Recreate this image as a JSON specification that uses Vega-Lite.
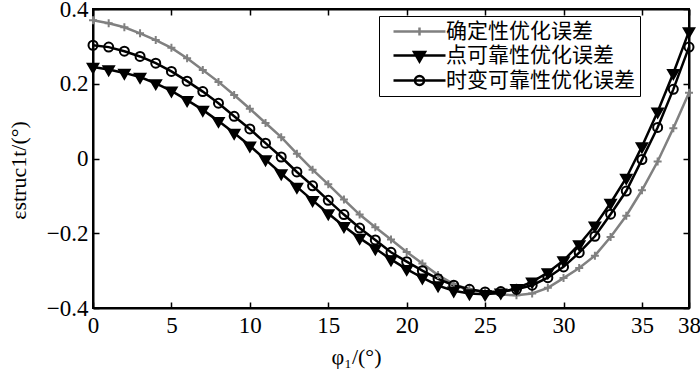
{
  "$schema": "https://vega.github.io/schema/vega-lite/v6.json",
  "width": 596,
  "height": 299,
  "autosize": {"type": "none"},
  "padding": {"left": 93, "top": 9, "right": 11, "bottom": 64},
  "background": "white",
  "config": {
    "view": {"stroke": "black", "strokeWidth": 2},
    "axis": {
      "grid": false,
      "domainColor": "black",
      "domainWidth": 2,
      "tickColor": "black",
      "tickWidth": 1.5,
      "tickSize": -6,
      "labelFlush": false,
      "labelFont": "Liberation Serif",
      "labelFontSize": 23,
      "labelColor": "black",
      "titleFont": "Liberation Serif",
      "titleFontSize": 22,
      "titleColor": "black",
      "titleFontWeight": "normal"
    }
  },
  "data": {
    "values": [
      {"phi":0,"series":"确定性优化误差","err":0.370},
      {"phi":1,"series":"确定性优化误差","err":0.362},
      {"phi":2,"series":"确定性优化误差","err":0.351},
      {"phi":3,"series":"确定性优化误差","err":0.335},
      {"phi":4,"series":"确定性优化误差","err":0.317},
      {"phi":5,"series":"确定性优化误差","err":0.296},
      {"phi":6,"series":"确定性优化误差","err":0.268},
      {"phi":7,"series":"确定性优化误差","err":0.237},
      {"phi":8,"series":"确定性优化误差","err":0.205},
      {"phi":9,"series":"确定性优化误差","err":0.170},
      {"phi":10,"series":"确定性优化误差","err":0.133},
      {"phi":11,"series":"确定性优化误差","err":0.095},
      {"phi":12,"series":"确定性优化误差","err":0.057},
      {"phi":13,"series":"确定性优化误差","err":0.013},
      {"phi":14,"series":"确定性优化误差","err":-0.030},
      {"phi":15,"series":"确定性优化误差","err":-0.069},
      {"phi":16,"series":"确定性优化误差","err":-0.110},
      {"phi":17,"series":"确定性优化误差","err":-0.150},
      {"phi":18,"series":"确定性优化误差","err":-0.184},
      {"phi":19,"series":"确定性优化误差","err":-0.217},
      {"phi":20,"series":"确定性优化误差","err":-0.250},
      {"phi":21,"series":"确定性优化误差","err":-0.281},
      {"phi":22,"series":"确定性优化误差","err":-0.312},
      {"phi":23,"series":"确定性优化误差","err":-0.336},
      {"phi":24,"series":"确定性优化误差","err":-0.350},
      {"phi":25,"series":"确定性优化误差","err":-0.358},
      {"phi":26,"series":"确定性优化误差","err":-0.364},
      {"phi":27,"series":"确定性优化误差","err":-0.366},
      {"phi":28,"series":"确定性优化误差","err":-0.361},
      {"phi":29,"series":"确定性优化误差","err":-0.346},
      {"phi":30,"series":"确定性优化误差","err":-0.320},
      {"phi":31,"series":"确定性优化误差","err":-0.293},
      {"phi":32,"series":"确定性优化误差","err":-0.260},
      {"phi":33,"series":"确定性优化误差","err":-0.210},
      {"phi":34,"series":"确定性优化误差","err":-0.153},
      {"phi":35,"series":"确定性优化误差","err":-0.085},
      {"phi":36,"series":"确定性优化误差","err":-0.008},
      {"phi":37,"series":"确定性优化误差","err":0.081},
      {"phi":38,"series":"确定性优化误差","err":0.176},
      {"phi":0,"series":"点可靠性优化误差","err":0.245},
      {"phi":1,"series":"点可靠性优化误差","err":0.238},
      {"phi":2,"series":"点可靠性优化误差","err":0.229},
      {"phi":3,"series":"点可靠性优化误差","err":0.218},
      {"phi":4,"series":"点可靠性优化误差","err":0.201},
      {"phi":5,"series":"点可靠性优化误差","err":0.181},
      {"phi":6,"series":"点可靠性优化误差","err":0.156},
      {"phi":7,"series":"点可靠性优化误差","err":0.130},
      {"phi":8,"series":"点可靠性优化误差","err":0.100},
      {"phi":9,"series":"点可靠性优化误差","err":0.068},
      {"phi":10,"series":"点可靠性优化误差","err":0.034},
      {"phi":11,"series":"点可靠性优化误差","err":-0.003},
      {"phi":12,"series":"点可靠性优化误差","err":-0.040},
      {"phi":13,"series":"点可靠性优化误差","err":-0.076},
      {"phi":14,"series":"点可靠性优化误差","err":-0.112},
      {"phi":15,"series":"点可靠性优化误差","err":-0.147},
      {"phi":16,"series":"点可靠性优化误差","err":-0.181},
      {"phi":17,"series":"点可靠性优化误差","err":-0.213},
      {"phi":18,"series":"点可靠性优化误差","err":-0.241},
      {"phi":19,"series":"点可靠性优化误差","err":-0.270},
      {"phi":20,"series":"点可靠性优化误差","err":-0.296},
      {"phi":21,"series":"点可靠性优化误差","err":-0.319},
      {"phi":22,"series":"点可靠性优化误差","err":-0.340},
      {"phi":23,"series":"点可靠性优化误差","err":-0.354},
      {"phi":24,"series":"点可靠性优化误差","err":-0.361},
      {"phi":25,"series":"点可靠性优化误差","err":-0.363},
      {"phi":26,"series":"点可靠性优化误差","err":-0.359},
      {"phi":27,"series":"点可靠性优化误差","err":-0.347},
      {"phi":28,"series":"点可靠性优化误差","err":-0.330},
      {"phi":29,"series":"点可靠性优化误差","err":-0.305},
      {"phi":30,"series":"点可靠性优化误差","err":-0.273},
      {"phi":31,"series":"点可靠性优化误差","err":-0.230},
      {"phi":32,"series":"点可靠性优化误差","err":-0.180},
      {"phi":33,"series":"点可靠性优化误差","err":-0.119},
      {"phi":34,"series":"点可靠性优化误差","err":-0.052},
      {"phi":35,"series":"点可靠性优化误差","err":0.032},
      {"phi":36,"series":"点可靠性优化误差","err":0.125},
      {"phi":37,"series":"点可靠性优化误差","err":0.228},
      {"phi":38,"series":"点可靠性优化误差","err":0.340},
      {"phi":0,"series":"时变可靠性优化误差","err":0.303},
      {"phi":1,"series":"时变可靠性优化误差","err":0.298},
      {"phi":2,"series":"时变可靠性优化误差","err":0.287},
      {"phi":3,"series":"时变可靠性优化误差","err":0.273},
      {"phi":4,"series":"时变可靠性优化误差","err":0.255},
      {"phi":5,"series":"时变可靠性优化误差","err":0.233},
      {"phi":6,"series":"时变可靠性优化误差","err":0.207},
      {"phi":7,"series":"时变可靠性优化误差","err":0.179},
      {"phi":8,"series":"时变可靠性优化误差","err":0.148},
      {"phi":9,"series":"时变可靠性优化误差","err":0.113},
      {"phi":10,"series":"时变可靠性优化误差","err":0.079},
      {"phi":11,"series":"时变可靠性优化误差","err":0.041},
      {"phi":12,"series":"时变可靠性优化误差","err":0.004},
      {"phi":13,"series":"时变可靠性优化误差","err":-0.036},
      {"phi":14,"series":"时变可靠性优化误差","err":-0.073},
      {"phi":15,"series":"时变可靠性优化误差","err":-0.112},
      {"phi":16,"series":"时变可靠性优化误差","err":-0.150},
      {"phi":17,"series":"时变可靠性优化误差","err":-0.186},
      {"phi":18,"series":"时变可靠性优化误差","err":-0.218},
      {"phi":19,"series":"时变可靠性优化误差","err":-0.251},
      {"phi":20,"series":"时变可靠性优化误差","err":-0.276},
      {"phi":21,"series":"时变可靠性优化误差","err":-0.300},
      {"phi":22,"series":"时变可靠性优化误差","err":-0.322},
      {"phi":23,"series":"时变可靠性优化误差","err":-0.339},
      {"phi":24,"series":"时变可靠性优化误差","err":-0.350},
      {"phi":25,"series":"时变可靠性优化误差","err":-0.357},
      {"phi":26,"series":"时变可靠性优化误差","err":-0.356},
      {"phi":27,"series":"时变可靠性优化误差","err":-0.350},
      {"phi":28,"series":"时变可靠性优化误差","err":-0.339},
      {"phi":29,"series":"时变可靠性优化误差","err":-0.319},
      {"phi":30,"series":"时变可靠性优化误差","err":-0.290},
      {"phi":31,"series":"时变可靠性优化误差","err":-0.252},
      {"phi":32,"series":"时变可靠性优化误差","err":-0.208},
      {"phi":33,"series":"时变可靠性优化误差","err":-0.149},
      {"phi":34,"series":"时变可靠性优化误差","err":-0.087},
      {"phi":35,"series":"时变可靠性优化误差","err":-0.003},
      {"phi":36,"series":"时变可靠性优化误差","err":0.083},
      {"phi":37,"series":"时变可靠性优化误差","err":0.185},
      {"phi":38,"series":"时变可靠性优化误差","err":0.298}
    ]
  },
  "resolve": {
    "scale": {"shape": "independent", "fill": "independent", "stroke": "independent"},
    "axis": {"x": "independent", "y": "independent"}
  },
  "layer": [
    {
      "mark": {"type": "line", "strokeWidth": 2.5},
      "encoding": {
        "x": {
          "field": "phi", "type": "quantitative",
          "scale": {"domain": [0, 38], "nice": false, "zero": false},
          "axis": {
            "orient": "bottom",
            "values": [0, 5, 10, 15, 20, 25, 30, 35, 38],
            "labelPadding": 12,
            "title": "φ₁/(°)",
            "titleX": 263,
            "titleY": 55,
            "titleAlign": "center",
            "titleBaseline": "alphabetic"
          }
        },
        "y": {
          "field": "err", "type": "quantitative",
          "scale": {"domain": [-0.4, 0.4], "nice": false},
          "axis": {
            "orient": "left",
            "values": [-0.4, -0.2, 0, 0.2, 0.4],
            "labelExpr": "datum.value == 0 ? '0' : replace(format(datum.value, '.1f'), '-', '−')",
            "labelPadding": 11,
            "title": "εstruc1t/(°)",
            "titleX": -75,
            "titleY": 161,
            "titleAngle": 270,
            "titleAlign": "center",
            "titleBaseline": "middle"
          }
        },
        "stroke": {
          "field": "series", "type": "nominal",
          "scale": {"domain": ["确定性优化误差", "点可靠性优化误差", "时变可靠性优化误差"], "range": ["#808080", "#000000", "#000000"]},
          "legend": null
        }
      }
    },
    {
      "mark": {"type": "point", "strokeWidth": 2, "opacity": 1, "size": 100},
      "encoding": {
        "x": {
          "field": "phi", "type": "quantitative",
          "axis": {"orient": "top", "values": [0, 5, 10, 15, 20, 25, 30, 35, 38], "labels": false, "title": null}
        },
        "y": {
          "field": "err", "type": "quantitative",
          "axis": {"orient": "right", "values": [-0.4, -0.2, 0, 0.2, 0.4], "labels": false, "title": null}
        },
        "stroke": {
          "field": "series", "type": "nominal",
          "scale": {"domain": ["确定性优化误差", "点可靠性优化误差", "时变可靠性优化误差"], "range": ["#808080", "#000000", "#000000"]},
          "legend": null
        },
        "fill": {
          "field": "series", "type": "nominal",
          "scale": {"domain": ["确定性优化误差", "点可靠性优化误差", "时变可靠性优化误差"], "range": ["transparent", "#000000", "transparent"]},
          "legend": null
        },
        "shape": {
          "field": "series", "type": "nominal",
          "scale": {"domain": ["确定性优化误差", "点可靠性优化误差", "时变可靠性优化误差"], "range": ["M-0.8,0H0.8M0,-0.8V0.8", "M-1.05,-0.65L1.05,-0.65L0,1.15Z", "M-0.9,0A0.9,0.9 0 1,0 0.9,0A0.9,0.9 0 1,0 -0.9,0Z"]},
          "legend": null
        }
      }
    },
    {
      "mark": {"type": "point", "strokeWidth": 2, "opacity": 0, "size": 100},
      "encoding": {
        "x": {"field": "phi", "type": "quantitative", "axis": null},
        "y": {"field": "err", "type": "quantitative", "axis": null},
        "stroke": {
          "field": "series", "type": "nominal",
          "scale": {"domain": ["确定性优化误差", "点可靠性优化误差", "时变可靠性优化误差"], "range": ["#808080", "#000000", "#000000"]}
        },
        "fill": {
          "field": "series", "type": "nominal",
          "scale": {"domain": ["确定性优化误差", "点可靠性优化误差", "时变可靠性优化误差"], "range": ["transparent", "#000000", "transparent"]}
        },
        "shape": {
          "field": "series", "type": "nominal",
          "scale": {"domain": ["确定性优化误差", "点可靠性优化误差", "时变可靠性优化误差"], "range": ["M-5.2,0H5.2M-0.8,0H0.8M0,-0.8V0.8", "M-5.2,0H5.2M-1.1,-0.7L1.1,-0.7L0,1.2Z", "M-5.2,0H-0.9M0.9,0H5.2M-0.9,0A0.9,0.9 0 1,0 0.9,0A0.9,0.9 0 1,0 -0.9,0ZM-0.9,0H0.9"]},
          "legend": {
            "title": null,
            "orient": "none",
            "legendX": 286,
            "legendY": 7,
            "symbolOpacity": 1,
            "symbolSize": 100,
            "symbolStrokeWidth": 2.5,
            "symbolOffset": 25,
            "labelOffset": 16,
            "labelLimit": 400,
            "labelFont": "Noto Sans CJK SC",
            "labelFontSize": 21,
            "labelColor": "black",
            "strokeColor": "black",
            "fillColor": "white",
            "padding": 5,
            "rowPadding": 2
          }
        }
      }
    }
  ]
}
